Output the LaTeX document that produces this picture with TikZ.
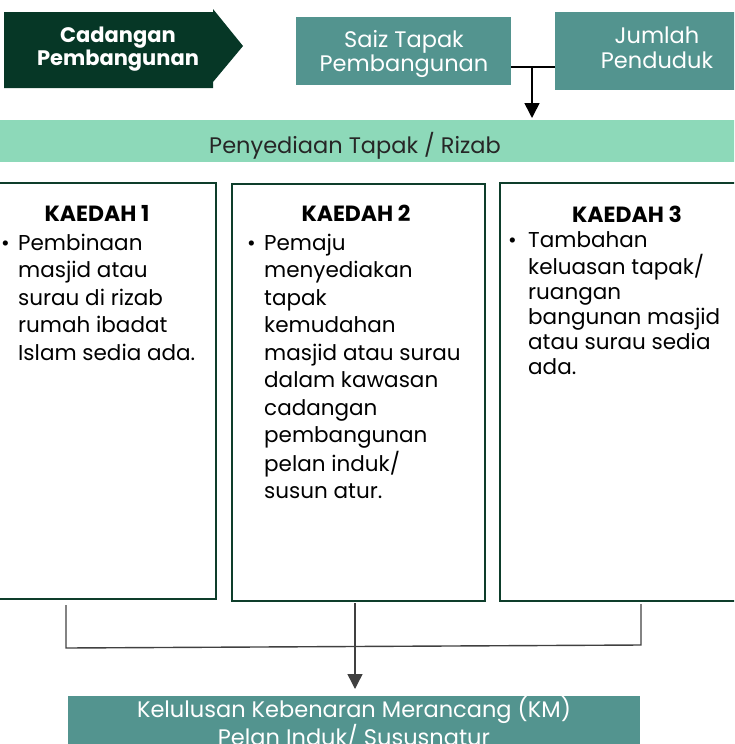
\documentclass[tikz,border=0pt]{standalone}
\usepackage{fontspec}
\setmainfont{Poppins}
\usetikzlibrary{arrows.meta}
\definecolor{dkgreen}{HTML}{063726}
\definecolor{tealbox}{HTML}{53948F}
\definecolor{mint}{HTML}{8DD9B9}
\definecolor{bord}{HTML}{0E3E2B}
\definecolor{conn}{HTML}{404040}
\definecolor{txtdark}{HTML}{262626}
\newcommand{\linesblock}[1]{\begin{tabular}[t]{@{}l@{}}#1\end{tabular}}
\begin{document}
\begin{tikzpicture}[x=1pt,y=-1pt,
  tealnode/.style={fill=tealbox, inner sep=0pt, anchor=north west},
  tealtext/.style={text=white, align=center, inner sep=0pt},
  kbox/.style={draw=bord, line width=1.6pt, fill=white, inner sep=0pt, anchor=north west},
  ktitle/.style={font=\bfseries\fontsize{22}{24}\selectfont, text=black, anchor=base, inner sep=0pt},
  kbody/.style={anchor=base west, inner sep=0pt, text=black},
  kbullet/.style={anchor=base west, inner sep=0pt, text=black, font=\fontsize{21}{21}\selectfont},
  connline/.style={draw=conn, line width=1.4pt},
]
\useasboundingbox (0,0) rectangle (734,744);
\clip (0,0) rectangle (734,744);

% chevron
\fill[dkgreen] (4,12) -- (213,12) -- (213,9) -- (243,46) -- (213,82) -- (213,88) -- (4,88) -- cycle;
\node[text=white, font=\bfseries\fontsize{21}{23}\selectfont, align=center, inner sep=0pt] (cad) at (118,49) {Cadangan\\Pembangunan};

% top boxes
\node[tealnode, minimum width=215pt, minimum height=68pt] (saiz) at (296,17) {};
\node[tealtext, font=\fontsize{22.5}{24}\selectfont] (saiztxt) at (404,54) {Saiz Tapak\\Pembangunan};
\node[tealnode, minimum width=185pt, minimum height=78pt] (jumlah) at (555,12) {};
\node[tealtext, font=\fontsize{22.5}{25}\selectfont] (jumtxt) at (657,48) {Jumlah\\Penduduk};

% band
\node[fill=mint, inner sep=0pt, anchor=north west, minimum width=740pt, minimum height=42pt] (band) at (-3,120) {};
\node[text=txtdark, font=\fontsize{22.5}{24}\selectfont, inner sep=0pt] (bandtxt) at (355,146) {Penyediaan Tapak / Rizab};

% connector top
\coordinate (j1) at (532,67);
\coordinate (j2) at (532,118);
\draw[line width=1.6pt] (saiz.east |- j1) -- (jumlah.west |- j1);
\draw[line width=1.6pt, -{Triangle[length=15pt,width=15pt]}] (j1) -- (j2);

% kaedah boxes
\node[kbox, minimum width=218pt, minimum height=416pt] (k1) at (-3,182) {};
\node[kbox, minimum width=253pt, minimum height=417pt] (k2) at (231,183) {};
\node[kbox, minimum width=245pt, minimum height=418pt] (k3) at (499,182) {};

\node[ktitle] (k1t) at (97,221) {KAEDAH 1};
\node[ktitle] (k2t) at (356,221) {KAEDAH 2};
\node[ktitle] (k3t) at (627,222) {KAEDAH 3};

\node[kbullet] (b1) at (1,250) {•};
\node[kbody, font=\fontsize{21.5}{27.5}\selectfont] (k1b) at (18,250) {\linesblock{Pembinaan\\masjid atau\\surau di rizab\\rumah ibadat\\Islam sedia ada.}};
\node[kbullet] (b2) at (247,250) {•};
\node[kbody, font=\fontsize{21.5}{27.55}\selectfont] (k2b) at (264,250) {\linesblock{Pemaju\\menyediakan\\tapak\\kemudahan\\masjid atau surau\\dalam kawasan\\cadangan\\pembangunan\\pelan induk/\\susun atur.}};
\node[kbullet] (b3) at (508,247) {•};
\node[kbody, font=\fontsize{21.5}{25}\selectfont] (k3b) at (528,247) {\linesblock{Tambahan\\keluasan tapak/\\ruangan\\bangunan masjid\\atau surau sedia\\ada.}};

% bottom box
\node[tealnode, minimum width=572pt, minimum height=52pt] (km) at (68,696) {};
\node[tealtext, font=\fontsize{22.5}{22}\selectfont] (kmtxt) at (354,723) {Kelulusan Kebenaran Merancang (KM)\\Pelan Induk/ Sususnatur};

% bottom connectors
\coordinate (c1) at (66,605);
\coordinate (c3) at (641,604);
\draw[connline] (c1) -- (66,648) -- (641,645) -- (c3);
\coordinate (c2) at (355,603);
\coordinate (c4) at (355,689);
\draw[connline, -{Triangle[length=15pt,width=15pt]}] (c2) -- (c4);
\end{tikzpicture}
\end{document}
